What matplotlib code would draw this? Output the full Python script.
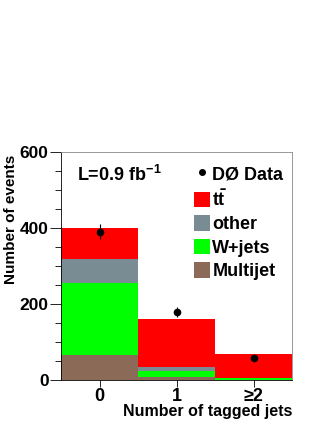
import matplotlib
matplotlib.use("Agg")
import matplotlib.pyplot as plt
from matplotlib.patches import Patch
from matplotlib.lines import Line2D
import numpy as np

plt.rcParams['font.family'] = ['Liberation Sans', 'DejaVu Sans']
plt.rcParams['font.weight'] = 'bold'
plt.rcParams['mathtext.fontset'] = 'custom'
plt.rcParams['mathtext.rm'] = 'Liberation Sans:bold'
plt.rcParams['mathtext.bf'] = 'Liberation Sans:bold'
plt.rcParams['mathtext.it'] = 'Liberation Sans:bold'
plt.rcParams['mathtext.default'] = 'bf'

# Data
bins = [0, 1, 2]
tick_labels = ['0', '1', '\u22652']
multijet = [67, 7, 1]
wjets = [188, 18, 3]
other = [63, 10, 2]
ttbar = [83, 125, 63]
data = [390, 179, 58]
data_err = [20, 13, 8]

colors = {
    'Multijet': '#8b6a58',
    'W+jets': '#00ff00',
    'other': '#7a8c93',
    'ttbar': '#ff0000',
}

fig = plt.figure(figsize=(3.32, 4.30), dpi=100)
ax = fig.add_axes([61/332, 50/430, 231/332, 228/430])

bottom = np.zeros(3)
for vals, key in [(multijet, 'Multijet'), (wjets, 'W+jets'), (other, 'other'), (ttbar, 'ttbar')]:
    ax.bar(bins, vals, width=1.0, bottom=bottom, color=colors[key], linewidth=0)
    bottom += np.array(vals)

ax.errorbar(bins, data, yerr=data_err, fmt='o', color='black', markersize=4.5,
            elinewidth=0.8, capsize=0)

ax.set_xlim(-0.5, 2.5)
ax.set_ylim(0, 600)
ax.set_xticks(bins)
ax.set_xticklabels(tick_labels, fontsize=13, fontweight='bold')
ax.set_yticks([0, 200, 400, 600])
ax.set_yticks(np.arange(0, 601, 50), minor=True)
ax.tick_params(axis='y', which='major', length=8, width=0.6, labelsize=12.5, pad=1)
ax.tick_params(axis='y', which='minor', length=4, width=0.6)
ax.tick_params(axis='x', which='major', length=5, width=0.6, pad=1)
for s in ax.spines.values():
    s.set_linewidth(0.6)
ax.spines['top'].set_color('#888888')
ax.spines['right'].set_color('#888888')

ax.set_xlabel('Number of tagged jets', fontsize=11.5, fontweight='bold', loc='right')
ax.xaxis.set_label_coords(1.0, -0.105)
ax.xaxis.label.set_va('top')
ax.set_ylabel('Number of events', fontsize=11, fontweight='bold', loc='top')
ax.yaxis.set_label_coords(-0.185, 0.99)

ax.text(0.07, 0.90, r'L=0.9 fb$^{-1}$', transform=ax.transAxes, fontsize=13,
        fontweight='bold', va='center', ha='left')

handles = [
    Line2D([], [], marker='o', linestyle='none', color='black', markersize=4),
    Patch(facecolor=colors['ttbar'], edgecolor='none'),
    Patch(facecolor=colors['other'], edgecolor='none'),
    Patch(facecolor=colors['W+jets'], edgecolor='none'),
    Patch(facecolor=colors['Multijet'], edgecolor='none'),
]
labels = ['D\u00d8 Data', r'$\mathbf{t\bar{t}}$', 'other', 'W+jets', 'Multijet']
leg = ax.legend(handles, labels, loc='upper left', bbox_to_anchor=(0.53, 0.99),
                frameon=False, fontsize=13, handlelength=0.85, handleheight=0.95,
                handletextpad=0.15, labelspacing=0.31, borderaxespad=0.2)
for t in leg.get_texts():
    t.set_fontweight('bold')

fig.savefig('out.png', dpi=100)
